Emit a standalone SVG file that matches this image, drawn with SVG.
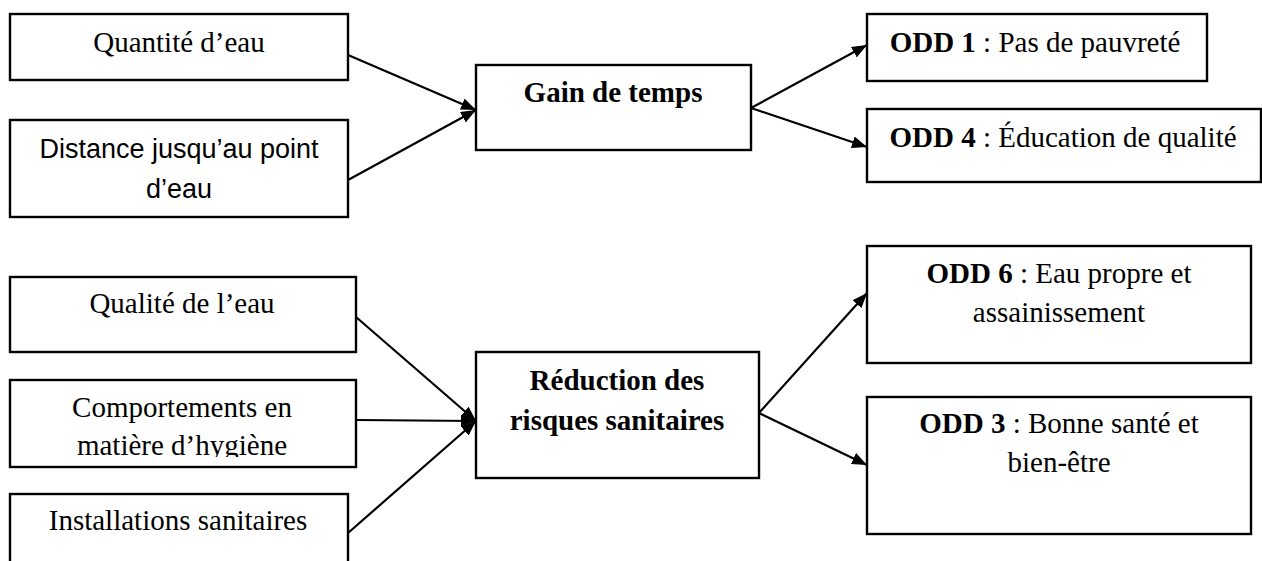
<svg xmlns="http://www.w3.org/2000/svg" width="1262" height="561" viewBox="0 0 1262 561">
<style>
.box{fill:#fff;stroke:#000;stroke-width:2.4}
.t{font-family:"Liberation Serif","Times New Roman",serif;font-size:29px;fill:#000;text-anchor:middle}
.s{font-family:"Liberation Sans",Arial,sans-serif;font-size:27px;fill:#000;text-anchor:middle}
.b{font-weight:bold}
.c{stroke:#000;stroke-width:2.2;fill:none;marker-end:url(#ah)}
</style>
<defs>
<marker id="ah" markerUnits="userSpaceOnUse" markerWidth="16" markerHeight="12" refX="15" refY="6" orient="auto">
<path d="M0,0 L15,6 L0,12 z" fill="#000"/>
</marker>
<clipPath id="clipC"><rect x="10" y="380" width="346" height="77"/></clipPath>
</defs>
<rect width="1262" height="561" fill="#fff"/>
<g id="connectors">
<line class="c" x1="348" y1="55" x2="476" y2="110"/>
<line class="c" x1="348" y1="180" x2="476" y2="110"/>
<line class="c" x1="751" y1="108" x2="867" y2="45"/>
<line class="c" x1="751" y1="108" x2="867" y2="147"/>
<line class="c" x1="356" y1="317" x2="476" y2="421"/>
<line class="c" x1="356" y1="420" x2="476" y2="421"/>
<line class="c" x1="348" y1="533" x2="476" y2="421"/>
<line class="c" x1="759" y1="413" x2="867" y2="293"/>
<line class="c" x1="759" y1="413" x2="867" y2="465"/>
</g>
<g id="n1"><rect class="box" x="10" y="14" width="338" height="66"/><text class="t" x="179" y="52">Quantité d’eau</text></g>
<g id="n2"><rect class="box" x="10" y="120" width="338" height="97"/><text class="s" x="179" y="158">Distance jusqu’au point</text><text class="s" x="179" y="198">d’eau</text></g>
<g id="n3"><rect class="box" x="476" y="65" width="275" height="85"/><text class="t b" x="613" y="102">Gain de temps</text></g>
<g id="n4"><rect class="box" x="867" y="14" width="340" height="67"/><text class="t" x="1035" y="52"><tspan class="b">ODD 1</tspan> : Pas de pauvreté</text></g>
<g id="n5"><rect class="box" x="867" y="109" width="394" height="73"/><text class="t" x="1063" y="147"><tspan class="b">ODD 4</tspan> : Éducation de qualité</text></g>
<g id="n6"><rect class="box" x="10" y="277" width="346" height="75"/><text class="t" x="182" y="313">Qualité de l’eau</text></g>
<g id="n7"><rect class="box" x="10" y="380" width="346" height="87"/><g clip-path="url(#clipC)"><text class="t" x="182" y="417">Comportements en</text><text class="t" x="182" y="455">matière d’hygiène</text></g></g>
<g id="n8"><rect class="box" x="10" y="494" width="338" height="80"/><text class="t" x="178" y="530">Installations sanitaires</text></g>
<g id="n9"><rect class="box" x="476" y="352" width="283" height="126"/><text class="t b" x="617" y="390">Réduction des</text><text class="t b" x="617" y="430">risques sanitaires</text></g>
<g id="n10"><rect class="box" x="867" y="246" width="384" height="117"/><text class="t" x="1059" y="283"><tspan class="b">ODD 6</tspan> : Eau propre et</text><text class="t" x="1059" y="322">assainissement</text></g>
<g id="n11"><rect class="box" x="867" y="397" width="384" height="137"/><text class="t" x="1059" y="433"><tspan class="b">ODD 3</tspan> : Bonne santé et</text><text class="t" x="1059" y="472">bien-être</text></g>
</svg>
